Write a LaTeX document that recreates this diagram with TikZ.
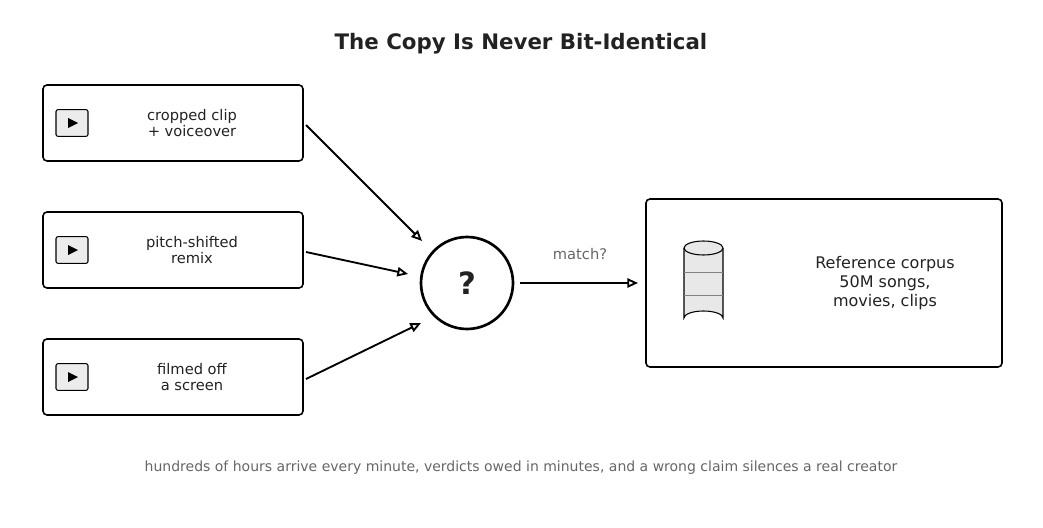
\documentclass[tikz,border=0pt]{standalone}
\usepackage{fontspec}
\setmainfont{DejaVu Sans}
\usetikzlibrary{arrows.meta,shapes.geometric}
\definecolor{ink}{HTML}{222222}
\definecolor{gr}{HTML}{666666}
\begin{document}
\begin{tikzpicture}[x=0.75pt,y=-0.75pt,
  box/.style={draw=black,line width=1.2pt,rounded corners=3pt},
  icon/.style={draw=black,fill=gray!15,rounded corners=1.5pt,line width=0.8pt,minimum width=24pt,minimum height=20pt,inner sep=0pt},
  lbl/.style={font=\fontsize{11}{12.5}\selectfont,text=ink,align=center},
  arr/.style={-{Stealth[length=8pt,width=7pt,inset=0pt,open]},line width=1.4pt,shorten >=0pt}]
\useasboundingbox (0,0) rectangle (1043,528);
\node[font=\fontsize{16}{18}\selectfont\bfseries,text=ink] (title) at (521,44) {The Copy Is Never Bit-Identical};
\foreach \n/\y/\t in {a/123/{cropped clip\\+ voiceover},b/250/{pitch-shifted\\remix},c/377/{filmed off\\a screen}}{
  \draw[box] (43,\y-38) rectangle (303,\y+38);
  \node[icon] (i\n) at (72,\y) {};
  \fill (68,\y-5) -- (78,\y) -- (68,\y+5) -- cycle;
  \node[lbl] (t\n) at (192,\y) {\t};
  \coordinate (s\n) at (306,\y+2);
}
\node[circle,draw=black,line width=2pt,minimum size=92pt*0.75,inner sep=0pt,font=\fontsize{23}{24}\selectfont\bfseries,text=ink] (q) at (467,283) {?};
\draw[arr] (sa) -- (422,241);
\draw[arr] (sb) -- (408,274);
\draw[arr] (sc) -- (421,323);
\draw[box] (646,199) rectangle (1002,367);
\node (r) at (824,283) {};
\coordinate (rl) at (638,283);
\draw[arr] (520,283) -- (rl);
\node[font=\fontsize{11}{12}\selectfont,text=gr] (m) at (580,254) {match?};
\draw[fill=gray!18,line width=0.8pt] (684,248) -- (684,318) arc[start angle=180,end angle=360,x radius=19.5,y radius=7] -- (723,248);
\draw[fill=gray!18,line width=0.8pt] (703.5,248) ellipse[x radius=19.5,y radius=7];
\draw[gray,line width=0.5pt] (684,272) -- (723,272) (684,295) -- (723,295);
\node[font=\fontsize{12}{14}\selectfont,text=ink,align=center] (rt) at (885,283) {Reference corpus\\50M songs,\\movies, clips};
\node[font=\fontsize{10.5}{12}\selectfont,text=gr] (foot) at (521,468) {hundreds of hours arrive every minute, verdicts owed in minutes, and a wrong claim silences a real creator};
\end{tikzpicture}
\end{document}
